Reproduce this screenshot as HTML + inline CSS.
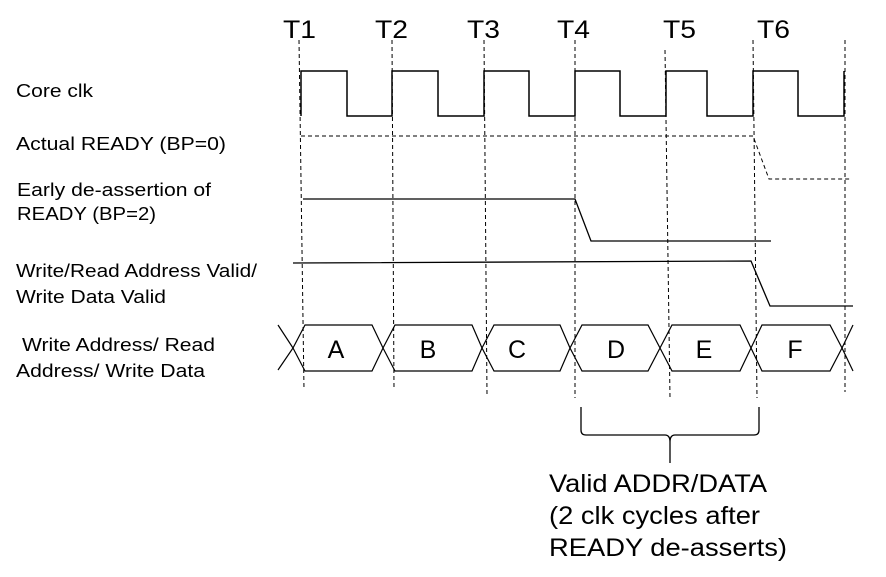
<!DOCTYPE html>
<html><head><meta charset="utf-8"><style>
html,body{margin:0;padding:0;background:#fff;}
svg{display:block;}
text{font-family:"Liberation Sans",Arial,sans-serif;fill:#000;}
</style></head><body>
<svg width="886" height="577" viewBox="0 0 886 577" xmlns="http://www.w3.org/2000/svg">
<g font-size="25">
<text x="283" y="38" textLength="33" lengthAdjust="spacingAndGlyphs">T1</text>
<text x="375" y="38" textLength="33" lengthAdjust="spacingAndGlyphs">T2</text>
<text x="467" y="38" textLength="33" lengthAdjust="spacingAndGlyphs">T3</text>
<text x="557" y="38" textLength="33" lengthAdjust="spacingAndGlyphs">T4</text>
<text x="663" y="38" textLength="33" lengthAdjust="spacingAndGlyphs">T5</text>
<text x="757" y="38" textLength="33" lengthAdjust="spacingAndGlyphs">T6</text>
</g>
<g font-size="18.5">
<text x="16" y="97" textLength="77" lengthAdjust="spacingAndGlyphs">Core clk</text>
<text x="16" y="150" textLength="210" lengthAdjust="spacingAndGlyphs">Actual READY (BP=0)</text>
<text x="17" y="196" textLength="194" lengthAdjust="spacingAndGlyphs">Early de-assertion of</text>
<text x="17" y="220" textLength="139" lengthAdjust="spacingAndGlyphs">READY (BP=2)</text>
<text x="16" y="277" textLength="241" lengthAdjust="spacingAndGlyphs">Write/Read Address Valid/</text>
<text x="16" y="303" textLength="150" lengthAdjust="spacingAndGlyphs">Write Data Valid</text>
<text x="22" y="351" textLength="193" lengthAdjust="spacingAndGlyphs">Write Address/ Read</text>
<text x="16" y="377" textLength="189" lengthAdjust="spacingAndGlyphs">Address/ Write Data</text>
</g>
<g stroke="#000" stroke-width="1" stroke-dasharray="4,3" fill="none">
<line x1="299" y1="40" x2="304" y2="390"/>
<line x1="392" y1="40" x2="394" y2="390"/>
<line x1="484" y1="40" x2="487" y2="395"/>
<line x1="575" y1="40" x2="575" y2="398"/>
<line x1="665" y1="50" x2="670" y2="398"/>
<line x1="753" y1="40" x2="757" y2="398"/>
<line x1="845" y1="40" x2="845" y2="392"/>
</g>
<polyline fill="none" stroke="#000" stroke-width="1.5" points="301,116 301,71 347,71 347,116 392,116 392,71 438,71 438,116 484,116 484,71 529,71 529,116 575,116 575,71 620,71 620,116 666,116 666,71 707,71 707,116 753,116 753,71 798,71 798,116 844,116 844,71"/>
<polyline fill="none" stroke="#000" stroke-width="1" stroke-dasharray="4,3" points="301,136 753,136 769,179 851,179"/>
<polyline fill="none" stroke="#000" stroke-width="1.3" points="303,199 575,199 591,241 771,241"/>
<polyline fill="none" stroke="#000" stroke-width="1.3" points="293,263 751,261 770,306 853,306"/>
<g fill="none" stroke="#000" stroke-width="1.2">
<polyline points="278,370 293,348 278,325"/>
<polyline points="293,348 305,325 372,325 383,348 372,371 305,371 293,348"/>
<polyline points="383,348 395,325 472,325 482,348 472,371 395,371 383,348"/>
<polyline points="482,348 494,325 560,325 570,348 560,371 494,371 482,348"/>
<polyline points="570,348 582,325 648,325 660,348 648,371 582,371 570,348"/>
<polyline points="660,348 672,325 740,325 751,348 740,371 672,371 660,348"/>
<polyline points="751,348 762,325 830,325 842,348 830,371 762,371 751,348"/>
<polyline points="842,348 853,325"/>
<polyline points="842,348 853,371"/>
</g>
<g font-size="25" text-anchor="middle">
<text x="336" y="358">A</text>
<text x="428" y="358">B</text>
<text x="517" y="358">C</text>
<text x="616" y="358">D</text>
<text x="704" y="358">E</text>
<text x="795" y="358">F</text>
</g>
<path d="M581,407 L581,430 Q581,435 586,435 L665,435 Q670,435 670,442 L670,463 M670,442 Q670,435 675,435 L754,435 Q759,435 759,430 L759,407" fill="none" stroke="#000" stroke-width="1.3"/>
<g font-size="25">
<text x="549" y="492" textLength="218" lengthAdjust="spacingAndGlyphs">Valid ADDR/DATA</text>
<text x="549" y="524" textLength="211" lengthAdjust="spacingAndGlyphs">(2 clk cycles after</text>
<text x="549" y="556" textLength="238" lengthAdjust="spacingAndGlyphs">READY de-asserts)</text>
</g>
</svg>
</body></html>
